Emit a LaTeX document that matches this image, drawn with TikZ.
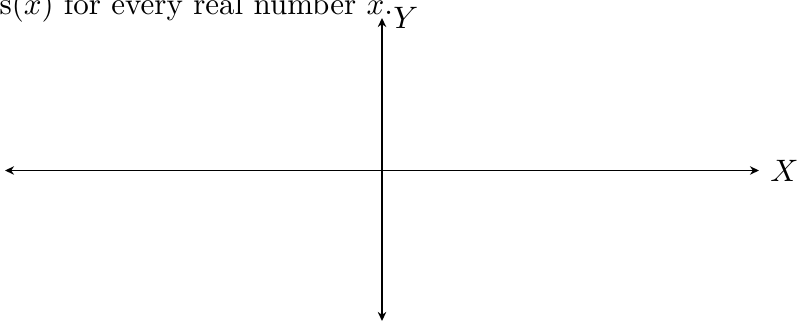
\documentclass[tikz,border=0pt]{standalone}
\usetikzlibrary{arrows.meta}
\begin{document}
\begin{tikzpicture}[x=0.3226pt,y=-0.3226pt,
  axis/.style={line width=0.6pt,{Stealth[length=2.9pt,width=2.7pt,inset=0.9pt]}-{Stealth[length=2.9pt,width=2.7pt,inset=0.9pt]}},
  lbl/.style={inner sep=3.33pt}]
\useasboundingbox (0,0) rectangle (797,325);
\clip (0,0) rectangle (797,325);
\node[anchor=base west,inner sep=0pt] (txt) at (-1,15) {s$(x)$ for every real number $x$.};
\coordinate (xl) at (5,170.5);
\coordinate (xr) at (759,170.5);
\coordinate (yt) at (382,18);
\coordinate (yb) at (382,321);
\draw[axis] (xl) -- (xr) node[lbl,right] (X) {$X$};
\draw[axis] (yb) -- (yt) node[lbl,right] (Y) {$Y$};
\end{tikzpicture}
\end{document}
